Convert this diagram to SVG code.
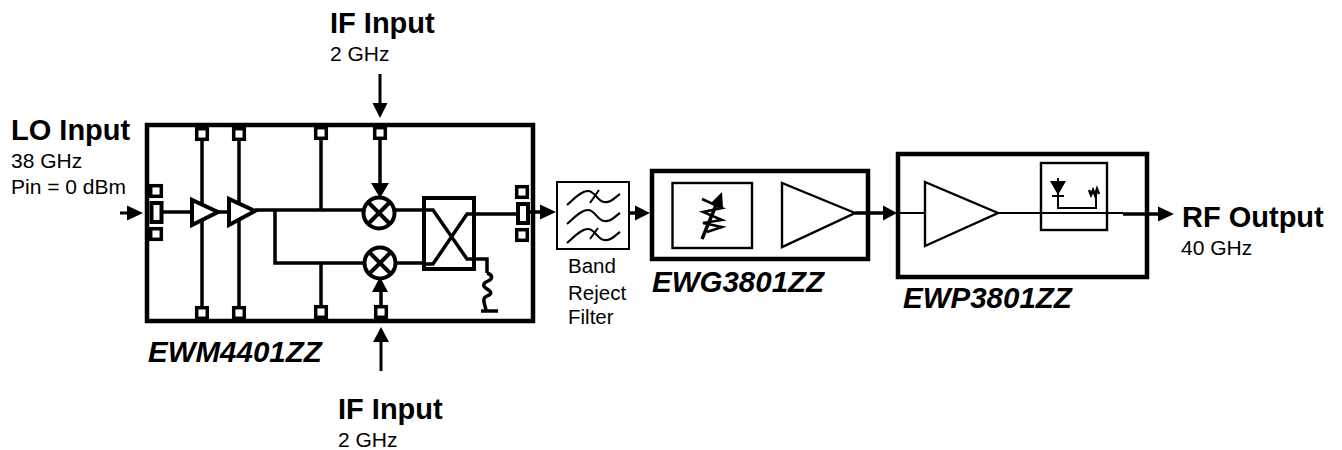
<svg xmlns="http://www.w3.org/2000/svg" width="1342" height="450" viewBox="0 0 1342 450">
<style>
text{font-family:"Liberation Sans",Arial,sans-serif;fill:#000}
.h{font-size:29px;font-weight:bold}
.s{font-size:21px}
.n{font-size:29.5px;font-weight:bold;font-style:italic}
.f{font-size:20.5px}
.b{fill:none;stroke:#000;stroke-width:4.5}
.m{fill:none;stroke:#000;stroke-width:2.4}
.c{fill:none;stroke:#000;stroke-width:3}
.t{fill:#fff;stroke:#000;stroke-width:2.4}
.w{fill:#fff;stroke:#000;stroke-width:4}
.l{fill:none;stroke:#000;stroke-width:3.5}
.q{fill:none;stroke:#000;stroke-width:2}
.z{fill:none;stroke:#000;stroke-width:2.5}
.a{fill:#000;stroke:none}
</style>
<defs>
<rect id="pad" x="-5.3" y="-5.3" width="10.6" height="10.6" fill="#fff" stroke="#000" stroke-width="3.5"/>
<g id="mix"><circle r="15.5" fill="#fff" stroke="#000" stroke-width="4"/><path d="M-11-11L11 11M-11 11L11-11" stroke="#000" stroke-width="4"/></g>
<path id="wave" d="M0 9C7 3 14-5 21-5S30 5 37 6 47 2 53-2" fill="none" stroke="#000" stroke-width="2.2"/>
</defs>
<g id="connectors">
<path class="l" d="M202 134V312M239 134V312M321 134V211M321 263V312M380 134V190M381 285V312"/>
<path class="l" d="M163 212H192M218 212H229M255 210H423M275 210V263H423M474 214H517M474 259H487V273"/>
<path class="l" d="M487 273c6 2 6 6 1 8s-6 5-1 8 5 5 0 7-3 6-1 14"/>
<path class="l" d="M481 311H498"/>
<path class="c" d="M380 74V105M381 371V340M120 213H130"/>
<path class="l" d="M529 212H542M629 213H637M855 213H885M1123 214H1160"/>
<path class="q" d="M897 213H925M998 213H1123"/>
<path class="a" d="M380 118L372.500 103H387.500ZM381 327L373 342H389ZM143 213L127 205.500V220.500ZM556 212L540 204.500V219.500ZM650 213L635 205.500V220.500ZM897 213L883 205.500V220.500ZM1174 214L1158 206.500V221.500ZM380 198L371 183H389ZM380 277L372 292H388Z"/>
</g>
<g id="ewm4401zz">
<rect class="b" x="147" y="125" width="386" height="196"/>
<use href="#pad" x="202" y="134"/><use href="#pad" x="239" y="134"/><use href="#pad" x="321" y="133"/><use href="#pad" x="380" y="133"/>
<use href="#pad" x="202" y="313"/><use href="#pad" x="239" y="313"/><use href="#pad" x="321" y="312"/><use href="#pad" x="381" y="312"/>
<use href="#pad" x="156" y="191"/><use href="#pad" x="156" y="234"/>
<rect class="w" x="151.500" y="203" width="10" height="19"/>
<use href="#pad" x="522" y="192"/><use href="#pad" x="522" y="235"/>
<rect class="w" x="518" y="204" width="10" height="19"/>
<polygon class="w" points="192,200 192,225 218,212"/>
<polygon class="w" points="229,199 229,225 255,211"/>
<use href="#mix" x="379" y="213"/><use href="#mix" x="380" y="263"/>
<rect class="w" x="424" y="198" width="50" height="71"/>
<path class="l" d="M423 210H433L467 259H474M423 264H433L467 214H474"/>
<text class="n" x="148" y="362">EWM4401ZZ</text>
</g>
<g id="band-reject-filter">
<rect class="q" x="557" y="182" width="72" height="67"/>
<use href="#wave" x="567" y="196"/><use href="#wave" x="567" y="215"/><use href="#wave" x="567" y="234"/>
<path class="q" d="M590 203L599 190M590 239L598 228"/>
<text class="f" x="568" y="273">Band</text><text class="f" x="568" y="300">Reject</text><text class="f" x="568" y="324">Filter</text>
</g>
<g id="ewg3801zz">
<rect class="b" x="652" y="171" width="216" height="88"/>
<rect class="m" x="672.500" y="183" width="79.500" height="65"/>
<polygon class="t" points="782,183 782,247 855,213"/>
<path class="z" d="M702 199L722 208 703 212 722 220 703 223 722 227 707 232"/>
<path class="l" d="M702 239L719 198"/>
<path class="a" d="M722 192L723 208 711 203Z"/>
<text class="n" x="652" y="292">EWG3801ZZ</text>
</g>
<g id="ewp3801zz">
<rect class="b" x="898" y="154" width="249" height="123"/>
<polygon class="t" points="925,182 925,246 998,213"/>
<rect class="m" x="1041" y="163" width="66" height="67"/>
<path class="a" d="M1050 181H1066L1058 195Z"/>
<path class="q" d="M1052 196H1064M1058 178V208H1096V192"/>
<path class="z" d="M1089 190L1091 195 1093 190 1095 195 1097 189 1099 194"/>
<text class="n" x="903" y="308">EWP3801ZZ</text>
</g>
<g id="labels">
<text class="h" x="330" y="33">IF Input</text><text class="s" x="330" y="61">2 GHz</text>
<text class="h" x="11" y="140">LO Input</text><text class="s" x="11" y="168">38 GHz</text><text class="s" x="11" y="194">Pin = 0 dBm</text>
<text class="h" x="1182" y="227">RF Output</text><text class="s" x="1181" y="255">40 GHz</text>
<text class="h" x="338" y="419">IF Input</text><text class="s" x="338" y="447">2 GHz</text>
</g>
</svg>
